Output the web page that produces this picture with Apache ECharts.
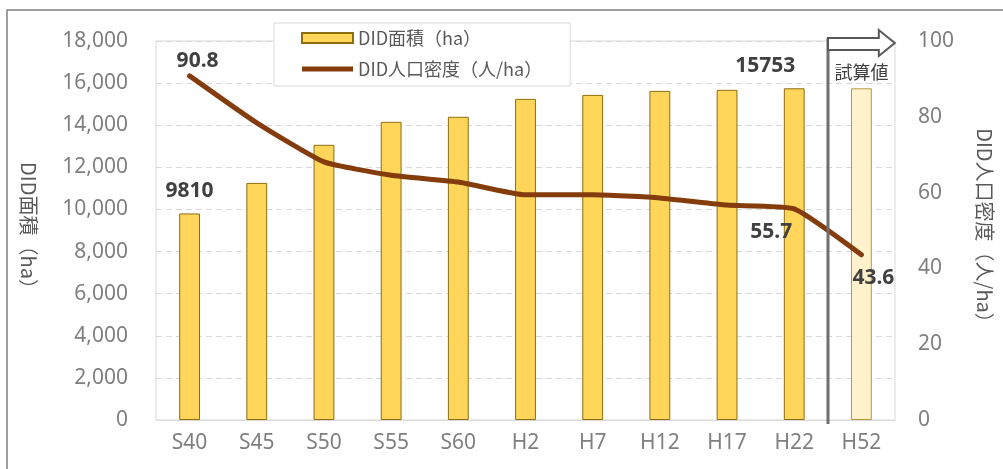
<!DOCTYPE html>
<html>
<head>
<meta charset="utf-8">
<script src="https://cdn.jsdelivr.net/npm/echarts@6/dist/echarts.min.js"></script>
<style>
  html, body { margin: 0; padding: 0; background: #fff; }
  #chart { width: 1003px; height: 469px; }
</style>
</head>
<body>
<div id="chart"></div>
<script>
// データ
const categories = ['S40', 'S45', 'S50', 'S55', 'S60', 'H2', 'H7', 'H12', 'H17', 'H22', 'H52'];
const areaValues = [9810, 11260, 13070, 14160, 14400, 15250, 15440, 15630, 15680, 15753, 15753];
const densityValues = [90.8, 78.4, 68.1, 64.6, 62.8, 59.4, 59.4, 58.6, 56.7, 55.7, 43.6];
const leftTicks = { min: 0, max: 18000, interval: 2000 };
const rightTicks = { min: 0, max: 100, interval: 20 };
const estimateIndex = 10; // 試算値 (H52)

const FONT = '"Noto Sans", "Noto Sans CJK JP", sans-serif';
const JP_FONT = '"Noto Sans CJK JP", sans-serif';
const GRAY = '#7f7f7f';
const DARK = '#404040';

const chart = echarts.init(document.getElementById('chart'));

// 棒グラフのデータ（試算値だけ淡色）
const barData = areaValues.map(function (v, i) {
  const item = { value: v };
  if (i === estimateIndex) {
    item.itemStyle = { color: '#fff2cc', borderColor: '#b89a3a' };
  }
  if (i === 0) {
    item.label = { show: true, position: 'top', distance: 12 };
  }
  if (i === 9) {
    item.label = { show: true, position: 'top', distance: 12, offset: [-29, 0] };
  }
  return item;
});

// 折れ線のデータ（ラベル位置は個別指定）
const lineData = densityValues.map(function (v, i) {
  const item = { value: v };
  if (i === 0) {
    item.label = { show: true, position: 'top', distance: 4, offset: [8, 0] };
  }
  if (i === 9) {
    item.label = { show: true, position: 'bottom', distance: 13, offset: [-23, 0] };
  }
  if (i === 10) {
    item.label = { show: true, position: 'bottom', distance: 13, offset: [12, 0] };
  }
  return item;
});

const labelStyle = {
  color: DARK,
  fontFamily: FONT,
  fontSize: 21,
  fontWeight: 'bold'
};

const option = {
  animation: false,
  backgroundColor: '#fff',
  textStyle: { fontFamily: FONT },
  grid: {
    left: 156,
    right: 108,
    top: 41,
    bottom: 49,
    show: true,
    borderColor: '#d9d9d9',
    borderWidth: 1
  },
  legend: {
    left: 274,
    top: 23,
    orient: 'vertical',
    itemWidth: 51,
    itemHeight: 10,
    itemGap: 13,
    padding: [6, 28, 8, 27],
    backgroundColor: '#fff',
    borderColor: '#d9d9d9',
    borderWidth: 1,
    textStyle: { color: '#595959', fontSize: 18, fontFamily: JP_FONT },
    data: [
      { name: 'DID面積（ha）', icon: 'rect' },
      { name: 'DID人口密度（人/ha）', icon: 'path://M0,0h51v5h-51z' }
    ]
  },
  xAxis: {
    type: 'category',
    data: categories,
    axisLine: { lineStyle: { color: '#d9d9d9' } },
    axisTick: { show: false },
    axisLabel: { color: GRAY, fontSize: 21, margin: 13, fontFamily: FONT }
  },
  yAxis: [
    {
      type: 'value',
      min: leftTicks.min,
      max: leftTicks.max,
      interval: leftTicks.interval,
      name: 'DID面積（ha）',
      nameLocation: 'middle',
      nameRotate: -90,
      nameGap: 117,
      nameTextStyle: { color: '#595959', fontSize: 20, fontFamily: JP_FONT },
      axisLine: { show: false },
      axisTick: { show: false },
      axisLabel: {
        color: GRAY,
        fontSize: 21,
        margin: 28,
        fontFamily: FONT,
        formatter: function (v) { return v.toLocaleString('en-US'); }
      },
      splitLine: { lineStyle: { color: '#d9d9d9', type: [6, 4], width: 1 } }
    },
    {
      type: 'value',
      min: rightTicks.min,
      max: rightTicks.max,
      interval: rightTicks.interval,
      name: 'DID人口密度（人/ha）',
      nameLocation: 'middle',
      nameRotate: -90,
      nameGap: 80,
      nameTextStyle: { color: '#595959', fontSize: 20, fontFamily: JP_FONT },
      axisLine: { show: false },
      axisTick: { show: false },
      axisLabel: { color: GRAY, fontSize: 21, margin: 23, fontFamily: FONT },
      splitLine: { show: false }
    }
  ],
  series: [
    {
      name: 'DID面積（ha）',
      type: 'bar',
      yAxisIndex: 0,
      barWidth: '31%',
      data: barData,
      itemStyle: { color: '#ffd55a', borderColor: '#8c6d10', borderWidth: 1 },
      label: Object.assign({ show: false }, labelStyle)
    },
    {
      name: 'DID人口密度（人/ha）',
      type: 'line',
      yAxisIndex: 1,
      data: lineData,
      showSymbol: true,
      symbol: 'circle',
      symbolSize: 0.1,
      smooth: 0.15,
      itemStyle: { color: '#843c0c' },
      lineStyle: { color: '#843c0c', width: 5, cap: 'round', join: 'round' },
      label: Object.assign({ show: false }, labelStyle),
      z: 5
    }
  ]
};

chart.setOption(option);

// 区切り線・矢印・「試算値」は軸から位置を計算して描く
function drawEstimateMarker() {
  const x9 = chart.convertToPixel({ xAxisIndex: 0 }, categories[estimateIndex - 1]);
  const x10 = chart.convertToPixel({ xAxisIndex: 0 }, categories[estimateIndex]);
  const bx = Math.round((x9 + x10) / 2);
  const yTop = chart.convertToPixel({ yAxisIndex: 0 }, leftTicks.max);
  const yBottom = chart.convertToPixel({ yAxisIndex: 0 }, leftTicks.min);
  const right = bx + (x10 - bx) * 2;

  chart.setOption({
    graphic: [
      {
        type: 'rect',
        shape: { x: 7, y: 10, width: 1100, height: 470 },
        style: { fill: 'none', stroke: '#808080', lineWidth: 1.5 },
        silent: true
      },
      {
        type: 'line',
        shape: { x1: bx, y1: yTop - 3, x2: bx, y2: yBottom + 4 },
        style: { stroke: '#6f6f6f', lineWidth: 3 },
        z: 10
      },
      {
        type: 'polygon',
        shape: {
          points: [
            [bx, yTop - 3], [right - 16, yTop - 3], [right - 16, yTop - 11],
            [right, yTop + 2], [right - 16, yTop + 15], [right - 16, yTop + 9], [bx, yTop + 9]
          ]
        },
        style: { fill: '#fff', stroke: '#595959', lineWidth: 2 },
        z: 11
      },
      {
        type: 'text',
        x: (bx + right) / 2,
        y: yTop + 31,
        style: {
          text: '試算値',
          fill: DARK,
          font: '18px "Noto Sans CJK JP", sans-serif',
          align: 'center',
          verticalAlign: 'middle'
        },
        z: 11
      }
    ]
  });
}

drawEstimateMarker();
</script>
</body>
</html>
